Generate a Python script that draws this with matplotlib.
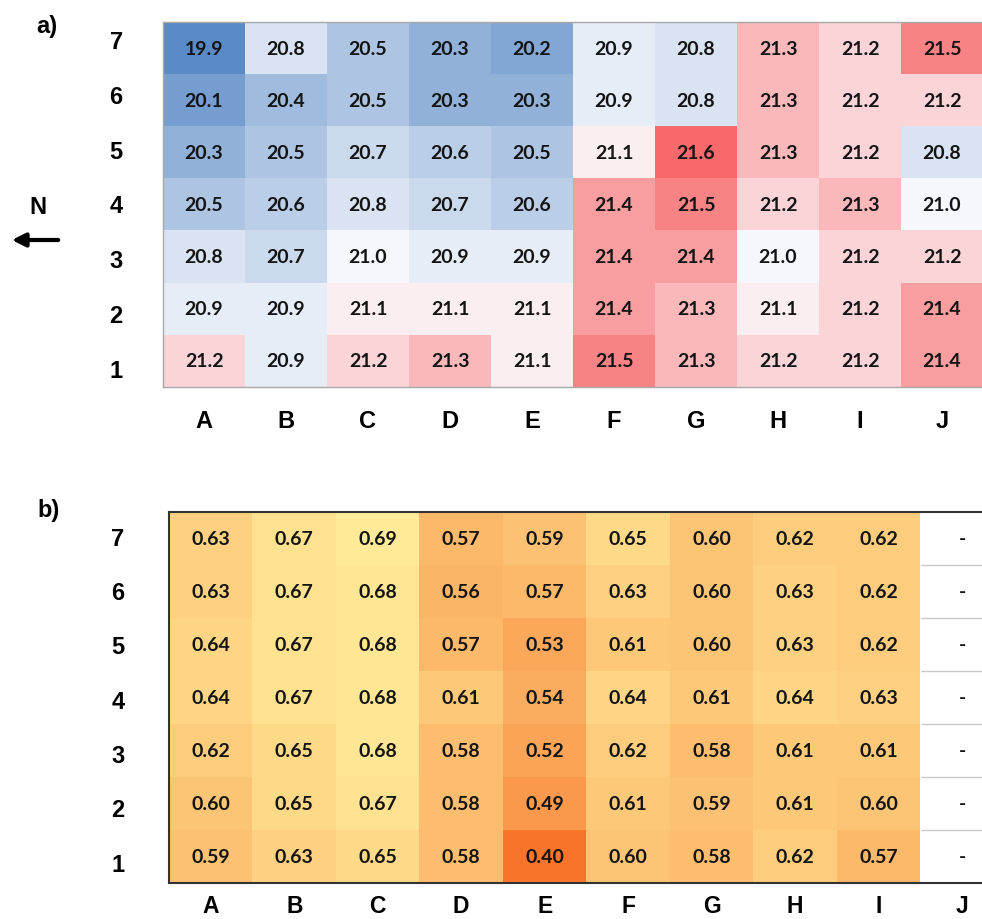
import numpy as np
import matplotlib
matplotlib.use("Agg")
import matplotlib.pyplot as plt
from matplotlib.colors import LinearSegmentedColormap, TwoSlopeNorm, Normalize

columns = ["A", "B", "C", "D", "E", "F", "G", "H", "I", "J"]
rows = ["7", "6", "5", "4", "3", "2", "1"]

temp_values = [
    [19.9, 20.8, 20.5, 20.3, 20.2, 20.9, 20.8, 21.3, 21.2, 21.5],
    [20.1, 20.4, 20.5, 20.3, 20.3, 20.9, 20.8, 21.3, 21.2, 21.2],
    [20.3, 20.5, 20.7, 20.6, 20.5, 21.1, 21.6, 21.3, 21.2, 20.8],
    [20.5, 20.6, 20.8, 20.7, 20.6, 21.4, 21.5, 21.2, 21.3, 21.0],
    [20.8, 20.7, 21.0, 20.9, 20.9, 21.4, 21.4, 21.0, 21.2, 21.2],
    [20.9, 20.9, 21.1, 21.1, 21.1, 21.4, 21.3, 21.1, 21.2, 21.4],
    [21.2, 20.9, 21.2, 21.3, 21.1, 21.5, 21.3, 21.2, 21.2, 21.4],
]

ratio_values = [
    [0.63, 0.67, 0.69, 0.57, 0.59, 0.65, 0.60, 0.62, 0.62, None],
    [0.63, 0.67, 0.68, 0.56, 0.57, 0.63, 0.60, 0.63, 0.62, None],
    [0.64, 0.67, 0.68, 0.57, 0.53, 0.61, 0.60, 0.63, 0.62, None],
    [0.64, 0.67, 0.68, 0.61, 0.54, 0.64, 0.61, 0.64, 0.63, None],
    [0.62, 0.65, 0.68, 0.58, 0.52, 0.62, 0.58, 0.61, 0.61, None],
    [0.60, 0.65, 0.67, 0.58, 0.49, 0.61, 0.59, 0.61, 0.60, None],
    [0.59, 0.63, 0.65, 0.58, 0.40, 0.60, 0.58, 0.62, 0.57, None],
]

W, H = 982, 920
fig = plt.figure(figsize=(W / 100, H / 100), dpi=100)

label_font = dict(family=["Liberation Sans", "DejaVu Sans"], fontweight="bold", fontsize=17)
cell_font = dict(family=["Lato", "DejaVu Sans"], fontweight="bold", fontsize=14, color="#141414")


def px_axes(left, top, right, bottom):
    return fig.add_axes([left / W, 1 - bottom / H, (right - left) / W, (bottom - top) / H])


# ---------- panel a ----------
ax1 = px_axes(163, 23, 983, 388)
a = np.array(temp_values, dtype=float)
cmap_a = LinearSegmentedColormap.from_list("bwr_xl", ["#5A8AC6", "#FCFCFF", "#F8696B"])
norm_a = TwoSlopeNorm(vmin=19.9, vcenter=21.05, vmax=21.6)
ax1.imshow(a, cmap=cmap_a, norm=norm_a, aspect="auto", interpolation="nearest")
for i in range(a.shape[0]):
    for j in range(a.shape[1]):
        ax1.text(j, i, f"{a[i, j]:.1f}", ha="center", va="center", **cell_font)
ax1.set_xticks(range(len(columns)))
ax1.set_xticklabels(columns, **label_font)
ax1.set_yticks(np.arange(len(rows)) * 1.05 - 0.17)
ax1.set_yticklabels(rows, **label_font)
ax1.set_ylim(6.5, -0.5)
ax1.tick_params(length=0)
ax1.tick_params(axis="x", pad=16)
ax1.tick_params(axis="y", pad=29)
for s in ax1.spines.values():
    s.set_color("#a8a8a8")
    s.set_linewidth(1.0)

# ---------- panel b ----------
ax2 = px_axes(169, 513, 169 + 10 * 83.5, 884)
b = np.array([[np.nan if v is None else v for v in r] for r in ratio_values], dtype=float)
cmap_b = LinearSegmentedColormap.from_list("or_xl", ["#F8742A", "#FFEA98"])
cmap_b.set_bad("white")
norm_b = Normalize(vmin=0.40, vmax=0.69)
ax2.imshow(np.ma.masked_invalid(b), cmap=cmap_b, norm=norm_b, aspect="auto", interpolation="nearest")
for i in range(b.shape[0]):
    for j in range(b.shape[1]):
        txt = "-" if np.isnan(b[i, j]) else f"{b[i, j]:.2f}"
        ax2.text(j, i, txt, ha="center", va="center", **cell_font)
for k in range(1, len(rows)):
    ax2.hlines(k - 0.5, 8.5, 9.5, color="#c8c8c8", linewidth=1.0)
ax2.set_xticks(range(len(columns)))
ax2.set_xticklabels(columns, **dict(label_font, fontsize=16.5))
ax2.set_yticks(np.arange(len(rows)) * 1.025 - 0.05)
ax2.set_yticklabels(rows, **label_font)
ax2.set_ylim(6.5, -0.5)
ax2.tick_params(length=0)
ax2.tick_params(axis="x", pad=8)
ax2.tick_params(axis="y", pad=32)
for s in ax2.spines.values():
    s.set_color("#333333")
    s.set_linewidth(1.5)

# ---------- annotations ----------
fig.text(47 / W, 1 - 27 / H, "a)", ha="center", va="center", **label_font)
fig.text(49 / W, 1 - 511 / H, "b)", ha="center", va="center", **label_font)
fig.text(38 / W, 1 - 207 / H, "N", ha="center", va="center", **label_font)
fig.patches.append(matplotlib.patches.FancyArrowPatch(
    (61 / W, 1 - 241 / H), (9 / W, 1 - 241 / H), transform=fig.transFigure,
    arrowstyle="-|>,head_length=8,head_width=4", mutation_scale=1, color="black", linewidth=3))

fig.savefig("out.png", dpi=100)
